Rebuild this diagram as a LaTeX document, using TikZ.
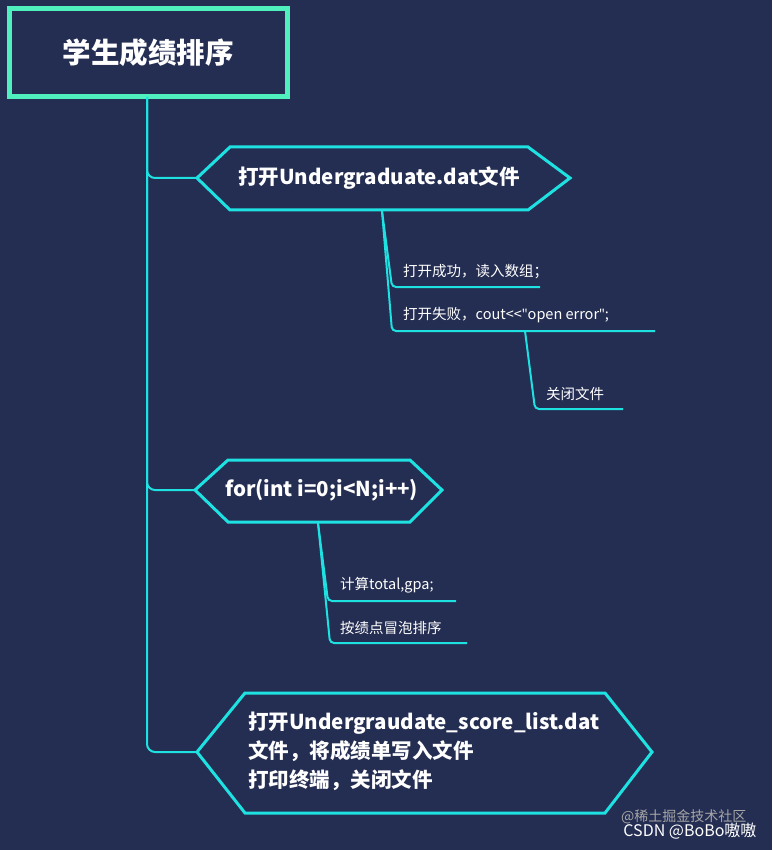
\documentclass[tikz,border=0pt]{standalone}
\usepackage{fontspec}
\setmainfont{Noto Sans CJK SC}
\newfontfamily\lat{Open Sans}
\definecolor{bg}{RGB}{36,45,82}
\definecolor{ln}{RGB}{30,225,225}
\definecolor{tb}{RGB}{80,240,190}
\tikzset{x=1pt,y=-1pt,
 conn/.style={draw=ln,line width=2pt,rounded corners=8pt},
 hex/.style={draw=ln,line width=3pt,fill=bg},
 lbl/.style={text=white,anchor=west,font=\fontsize{14.5}{16}\selectfont,inner sep=0},
 big/.style={text=white,anchor=west,font=\bfseries\fontsize{20.5}{29}\selectfont,inner sep=0,align=left}}
\begin{document}
\begin{tikzpicture}
\fill[bg] (0,0) rectangle (772,850);
\useasboundingbox (0,0) rectangle (772,850);
% title
\node[draw=tb,line width=5pt,minimum width=278,minimum height=88,text=white,font=\bfseries\fontsize{28.5}{30}\selectfont] (title) at (148,53) {学生成绩排序};
% main trunk
\coordinate (t0) at (147,97);
\coordinate (h1) at (197,178);
\coordinate (h2) at (195,490);
\coordinate (h3) at (197,752);
\draw[conn] (t0) -- (147,178) -- (h1);
\draw[conn] (t0) -- (147,490) -- (h2);
\draw[conn] (t0) -- (147,752) -- (h3);
% hexagons
\draw[hex] (h1) -- (230,147) -- (528,147) -- (570,178) -- (528,210) -- (230,210) -- cycle;
\node[big] (n1) at (238,178) {打开Undergraduate.dat文件};
\draw[hex] (h2) -- (228,460) -- (410,460) -- (442,490) -- (410,522) -- (228,522) -- cycle;
\node[big] (n2) at (225,490) {for(int i=0;i<N;i++)};
\draw[hex] (h3) -- (245,693) -- (605,693) -- (652,752) -- (605,813) -- (245,813) -- cycle;
\node[big] (n3) at (248,751) {打开Undergraudate\_score\_list.dat\\文件，将成绩单写入文件\\打印终端，关闭文件};
% branches of hexagon 1
\coordinate (b1) at (382,211);
\draw[conn,rounded corners=4pt] (b1) -- (392,287) -- (540,287);
\draw[conn,rounded corners=4pt] (b1) -- (392,331) -- (655,331);
\node[lbl] (l1) at (403,272) {打开成功，读入数组；};
\node[lbl] (l2) at (403,315) {打开失败，cout\symbol{60}\symbol{60}{\lat\symbol{34}}open error{\lat\symbol{34}};};
\coordinate (b2) at (525,331);
\draw[conn,rounded corners=4pt] (b2) -- (535,409) -- (623,409);
\node[lbl] (l3) at (546,394) {关闭文件};
% branches of hexagon 2
\coordinate (b3) at (318,523);
\draw[conn,rounded corners=4pt] (b3) -- (328,601) -- (456,601);
\draw[conn,rounded corners=4pt] (b3) -- (330,643) -- (467,643);
\node[lbl] (l4) at (340,585) {计算total,gpa;};
\node[lbl] (l5) at (340,628) {按绩点冒泡排序};
% watermark
\node[text=gray!70,font=\fontsize{14}{15}\selectfont,anchor=east] (w1) at (750,817) {@稀土掘金技术社区};
\node[text=white!90,font=\fontsize{16}{17}\selectfont,anchor=east] (w2) at (760,831) {CSDN @BoBo嗷嗷};
\end{tikzpicture}
\end{document}
